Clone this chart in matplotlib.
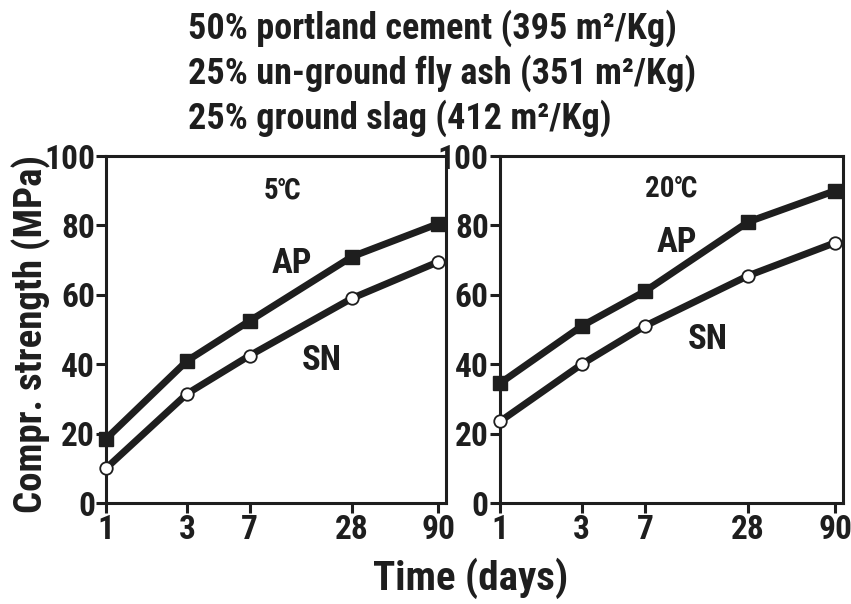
import matplotlib
matplotlib.use('Agg')
import matplotlib.pyplot as plt
from matplotlib import font_manager

# data
days = [1, 3, 7, 28, 90]
ap_5c = [18.5, 41, 52.5, 71, 80.5]
sn_5c = [10, 31.5, 42.5, 59, 69.5]
ap_20c = [34.5, 51, 61, 81, 90]
sn_20c = [23.5, 40, 51, 65.5, 75]
panel_titles = ['5\u2103', '20\u2103']
header = ['50% portland cement (395 m\u00b2/Kg)',
          '25% un-ground fly ash (351 m\u00b2/Kg)',
          '25% ground slag (412 m\u00b2/Kg)']

names = {f.name for f in font_manager.fontManager.ttflist}
candidates = ['Liberation Sans Narrow', 'Arial Narrow', 'Roboto Condensed',
              'Open Sans Condensed', 'DejaVu Sans Condensed', 'Liberation Sans']
main = next(c for c in candidates if c in names) if any(c in names for c in candidates) else 'DejaVu Sans'
fam = [main, 'DejaVu Sans']
plt.rcParams['font.family'] = fam
plt.rcParams['font.weight'] = 'bold'
ink = '#1e1e1e'

fig = plt.figure(figsize=(8.51, 6.04), dpi=100)
ax1 = fig.add_axes([0.1246, 0.1672, 0.3995, 0.5745])
ax2 = fig.add_axes([0.5875, 0.1672, 0.4030, 0.5745])

panels = [(ax1, ap_5c, sn_5c, panel_titles[0], (0.52, 0.90), (0.547, 0.69), (0.635, 0.41)),
          (ax2, ap_20c, sn_20c, panel_titles[1], (0.50, 0.905), (0.516, 0.75), (0.606, 0.47))]

for ax, ap, sn, ttl, tpos, appos, snpos in panels:
    ax.plot(days, ap, color=ink, lw=5, marker='s', ms=9.5, mfc=ink, mec=ink,
            solid_joinstyle='round', solid_capstyle='round', zorder=3, clip_on=False)
    ax.plot(days, sn, color=ink, lw=5, marker='o', ms=9, mfc='white', mec=ink,
            mew=1.3, solid_joinstyle='round', solid_capstyle='round', zorder=3,
            clip_on=False)
    ax.set_xscale('log')
    ax.set_xlim(1, 100)
    ax.set_ylim(0, 100)
    ax.set_xticks(days)
    ax.set_xticklabels([str(d) for d in days])
    ax.minorticks_off()
    ax.set_yticks([0, 20, 40, 60, 80, 100])
    ax.tick_params(direction='out', length=7, width=2.2, labelsize=24,
                   colors=ink, pad=1)
    for s in ax.spines.values():
        s.set_linewidth(2.2)
        s.set_color(ink)
    ax.text(tpos[0], tpos[1], ttl, transform=ax.transAxes, ha='center',
            va='center', fontsize=21, color=ink)
    ax.text(appos[0], appos[1], 'AP', transform=ax.transAxes, ha='center',
            va='center', fontsize=25, color=ink)
    ax.text(snpos[0], snpos[1], 'SN', transform=ax.transAxes, ha='center',
            va='center', fontsize=25, color=ink)

for i, line in enumerate(header):
    fig.text(188 / 851, 1 - (28 + 45 * i) / 604, line, ha='left', va='center',
             fontsize=26, color=ink)

fig.text(0.037, 0.447, 'Compr. strength (MPa)', rotation=90, ha='center',
         va='center', fontsize=28, color=ink)
fig.text(471 / 851, 1 - 578 / 604, 'Time (days)', ha='center', va='center',
         fontsize=29.5, color=ink)

fig.savefig('out.png', dpi=100)
